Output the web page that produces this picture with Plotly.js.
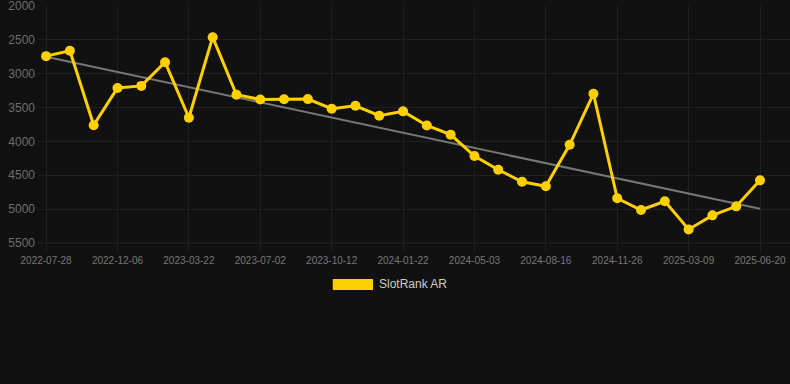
<!DOCTYPE html>
<html>
<head>
<meta charset="utf-8">
<script src="https://cdn.plot.ly/plotly-3.0.1.min.js"></script>
<style>
html,body{margin:0;padding:0;background:#111111;}
#chart{width:790px;height:384px;}
</style>
</head>
<body>
<div id="chart"></div>
<script>
const dates = [
  "2022-07-28","2022-09-10","2022-10-24","2022-12-06","2023-01-11","2023-02-15",
  "2023-03-22","2023-04-26","2023-05-29","2023-07-02","2023-08-05","2023-09-08",
  "2023-10-12","2023-11-15","2023-12-19","2024-01-22","2024-02-25","2024-03-30",
  "2024-05-03","2024-06-07","2024-07-12","2024-08-16","2024-09-19","2024-10-23",
  "2024-11-26","2024-12-30","2025-02-02","2025-03-09","2025-04-12","2025-05-16",
  "2025-06-20"
];
const rankValues = [
  2740, 2660, 3760, 3210, 3180, 2830,
  3650, 2460, 3310, 3380, 3378, 3375,
  3517, 3473, 3620, 3556, 3765, 3900,
  4216, 4418, 4596, 4663, 4050, 3296,
  4840, 5013, 4885, 5300, 5092, 4959,
  4575
];
const tickLabels = [
  "2022-07-28","2022-12-06","2023-03-22","2023-07-02","2023-10-12","2024-01-22",
  "2024-05-03","2024-08-16","2024-11-26","2025-03-09","2025-06-20"
];
const yTicks = [2000, 2500, 3000, 3500, 4000, 4500, 5000, 5500];
const trendDates = ["2022-07-28","2025-06-20"];
const trendValues = [2750, 4995];
const seriesName = "SlotRank AR";

const traces = [
  {
    x: trendDates, y: trendValues, type: "scatter", mode: "lines",
    line: {color: "#777777", width: 2}, hoverinfo: "skip", showlegend: false
  },
  {
    x: dates, y: rankValues, type: "scatter", mode: "lines+markers",
    name: seriesName,
    line: {color: "#FFD000", width: 3},
    marker: {color: "#FFD000", size: 10},
    showlegend: false
  }
];

const layout = {
  width: 790, height: 384,
  paper_bgcolor: "#111111", plot_bgcolor: "#111111",
  margin: {l: 38, r: 0, t: 6, b: 141},
  font: {family: "Liberation Sans, Arial, sans-serif", color: "#777777"},
  showlegend: false,
  xaxis: {
    type: "category",
    categoryorder: "array", categoryarray: dates,
    range: [-0.34, 31.26],
    tickmode: "array", tickvals: tickLabels, ticktext: tickLabels,
    showgrid: true, gridcolor: "#202020", gridwidth: 1,
    ticks: "outside", ticklen: 8, tickcolor: "#202020",
    tickfont: {size: 10, color: "#777777"},
    zeroline: false, showline: false
  },
  yaxis: {
    range: [5500.5, 1999.5],
    tickmode: "array",
    tickvals: yTicks,
    ticktext: yTicks.map(String),
    showgrid: true, gridcolor: "#202020", gridwidth: 1,
    ticks: "", ticklabelstandoff: 2, ticklabeloverflow: "allow",
    tickfont: {size: 12, color: "#6e6e6e"},
    zeroline: false, showline: false
  },
  shapes: [
    {type: "line", xref: "paper", yref: "paper", x0: 0, x1: 1, y0: 0, y1: 0,
     line: {color: "#262626", width: 1}},
    {type: "rect", xref: "paper", yref: "paper",
     x0: 0.392, x1: 0.4455, y0: -0.152, y1: -0.198,
     fillcolor: "#FFD000", line: {width: 0}}
  ],
  annotations: [
    {xref: "paper", yref: "paper", x: 0.451, y: -0.175, xanchor: "left", yanchor: "middle",
     text: seriesName, showarrow: false, font: {size: 12, color: "#cccccc"}}
  ]
};

Plotly.newPlot("chart", traces, layout, {displayModeBar: false, staticPlot: true});
</script>
</body>
</html>
